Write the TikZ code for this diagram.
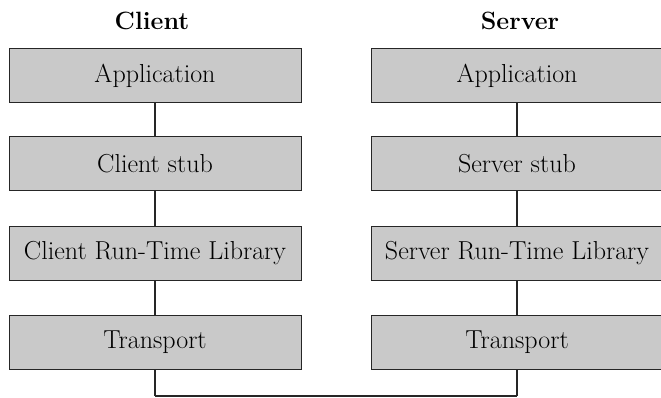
\documentclass[tikz,border=0pt]{standalone}
\begin{document}
\begin{tikzpicture}
  [x=1pt,y=-1pt,every node/.style={font=\fontsize{26}{30}\selectfont},
   layer/.style={rectangle,draw=black!85,line width=0.9pt,fill=gray!42,
     minimum width=292pt,minimum height=54pt,inner sep=0pt},
   head/.style={font=\fontsize{25}{29}\selectfont\bfseries}]
\useasboundingbox (0,0) rectangle (661,397);

\node (ct)[head] at (152,21) {Client};
  \node (st)[head] at (520,21) {Server};

\node (c1)[layer] at (155,75.5) {Application};
  \node (c2)[layer] at (155,163.5) {Client stub};
  \node (c3)[layer] at (155,253) {Client Run-Time Library};
  \node (c4)[layer] at (155,342) {Transport};

\node (s1)[layer] at (517,75.5) {Application};
  \node (s2)[layer] at (517,163.5) {Server stub};
  \node (s3)[layer] at (517,253) {Server Run-Time Library};
  \node (s4)[layer] at (517,342) {Transport};

\coordinate (cb) at (155,396);
  \coordinate (sb) at (517,396);

 \path [line width=1.6pt,black!85] (c1) edge (c2) (c2) edge (c3) (c3) edge (c4);
 \path [line width=1.6pt,black!85] (s1) edge (s2) (s2) edge (s3) (s3) edge (s4);

 \path [line width=1.6pt,black!85] (c4) edge (cb) (s4) edge (sb);
   \path [line width=1.2pt,black!85] (cb) edge (sb);
;
\end{tikzpicture}
\end{document}
